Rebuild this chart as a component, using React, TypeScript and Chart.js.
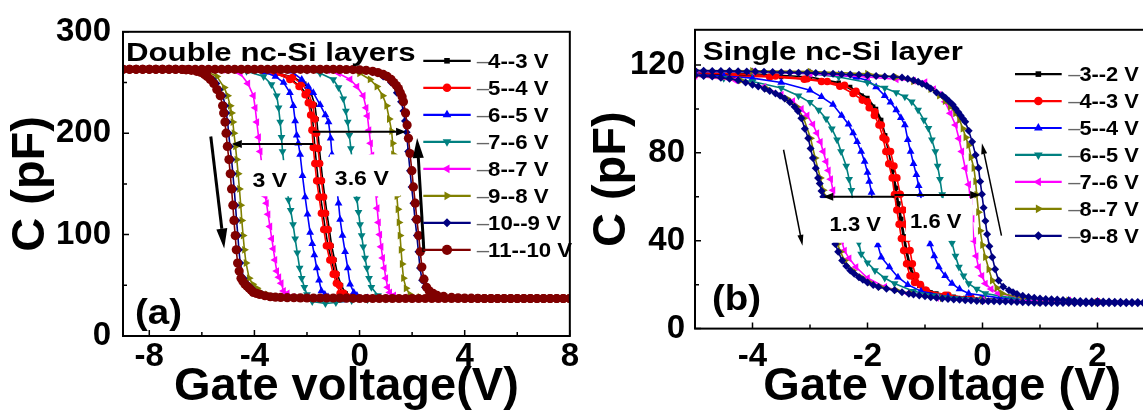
import React, { useEffect, useRef } from 'react';
import { Chart, registerables } from 'chart.js';

Chart.register(...registerables);

type Pt = [number, number];

const FONT = '"Liberation Sans", Arial, Helvetica, sans-serif';

// ================= Panel (a): Double nc-Si layers =================
const A_TITLE = 'Double nc-Si layers';
const A_TAG = '(a)';
const A_X_TITLE = 'Gate voltage(V)';
const A_Y_TITLE = 'C (pF)';
const A_X_MIN = -9;
const A_X_MAX = 8;
const A_Y_MIN = 0;
const A_Y_MAX = 300;
const A_X_TICKS = [-8, -4, 0, 4, 8];
const A_X_MINOR = [-6, -2, 2, 6];
const A_Y_TICKS = [0, 100, 200, 300];
const A_Y_MINOR = [50, 150, 250];
const A_LABELS = ['–4--3 V', '–5--4 V', '–6--5 V', '–7--6 V', '–8--7 V', '–9--8 V', '–10--9 V', '–11--10 V'];
const A_GAP_TEXT = ['3 V', '3.6 V'];

// right branch (left -> right) and left branch (right -> left), [V, pF]
const A_43_R: Pt[] = [[-9,263],[-7,263],[-5,263],[-4,262.5],[-3.2,260],[-2.5,255],[-2.1,249],[-1.85,240],[-1.7,228],[-1.63,214],[-1.58,200],[-1.53,185],[-1.47,170],[-1.4,153],[-1.32,137],[-1.24,121],[-1.15,105],[-1.06,89],[-0.95,75],[-0.84,61],[-0.7,50],[-0.52,42],[-0.2,38.5],[0.5,37.5],[2,37],[5,37],[8,37]];
const A_43_L: Pt[] = [[8,37],[5,37],[2,37],[0,37],[-0.4,38.5],[-0.66,42],[-0.82,52],[-0.94,61],[-1.07,75],[-1.2,89],[-1.3,105],[-1.39,121],[-1.48,137],[-1.57,153],[-1.64,170],[-1.7,186],[-1.75,203],[-1.8,218],[-1.89,230],[-2.0,238],[-2.25,246],[-2.6,253],[-3.2,259],[-4,262],[-5,263],[-7,263],[-9,263]];

const A_54_R: Pt[] = [[-9,263],[-7,263],[-5,263],[-4,262.5],[-3.2,260],[-2.55,255],[-2.2,249],[-1.95,240],[-1.78,228],[-1.7,214],[-1.64,200],[-1.58,185],[-1.52,170],[-1.45,153],[-1.37,137],[-1.3,121],[-1.2,105],[-1.12,89],[-1.01,75],[-0.9,61],[-0.77,50],[-0.6,42],[-0.3,38.5],[0.3,37.5],[2,37],[4,37],[6,37],[8,37]];
const A_54_L: Pt[] = [[8,37],[6,37],[4,37],[2,37],[0.5,37],[-0.2,37.5],[-0.5,39],[-0.74,42],[-0.88,52],[-1.0,61],[-1.13,75],[-1.26,89],[-1.36,105],[-1.45,121],[-1.54,137],[-1.63,153],[-1.7,170],[-1.76,186],[-1.81,203],[-1.86,218],[-1.95,230],[-2.07,238],[-2.3,246],[-2.65,253],[-3.2,259],[-4,262],[-5,263],[-6,263],[-7,263],[-9,263]];

const A_65_R: Pt[] = [[-9,263],[-7,263],[-5,263],[-3.5,262.5],[-2.6,261],[-2.2,253],[-1.95,246],[-1.76,240],[-1.5,228],[-1.3,218],[-1.18,211],[-1.1,195],[-1.05,179],[-0.96,163],[-0.87,147],[-0.8,131],[-0.74,115],[-0.65,99],[-0.55,83],[-0.45,67],[-0.36,51],[-0.22,43],[-0.1,40],[0.3,37.5],[1,37],[3,37],[5,37],[8,37]];
const A_65_L: Pt[] = [[8,37],[6,37],[4,37],[2,37],[1,37],[0,36.5],[-0.6,35.5],[-1.0,36.5],[-1.2,38.5],[-1.32,41],[-1.45,44.5],[-1.54,55],[-1.63,67],[-1.72,80],[-1.8,91],[-1.88,102],[-1.98,120],[-2.07,137],[-2.17,158],[-2.26,179],[-2.33,190],[-2.39,198],[-2.45,212],[-2.52,227],[-2.65,240],[-2.89,250],[-3.2,256],[-3.6,260],[-4.2,262],[-5,263],[-7,263],[-9,263]];

const A_76_R: Pt[] = [[-9,263],[-7,263],[-5,263],[-3,262.5],[-2,262],[-1.5,259],[-1.0,253],[-0.8,245],[-0.62,234],[-0.52,222],[-0.45,211],[-0.39,198],[-0.33,185],[-0.28,172],[-0.22,160],[-0.16,147],[-0.1,135],[-0.04,122],[0.02,110],[0.08,99],[0.14,88],[0.21,77],[0.28,67],[0.36,57],[0.45,48],[0.7,40],[1.2,37.5],[2,37],[4,37],[6,37],[8,37]];
const A_76_L: Pt[] = [[8,37],[6,37],[4,37],[2,37],[1,36.5],[0.3,36],[-0.3,35],[-0.9,33],[-1.3,32],[-1.8,34],[-2.0,41],[-2.1,48],[-2.2,57],[-2.28,67],[-2.37,82],[-2.45,96],[-2.53,110],[-2.62,124],[-2.7,134],[-2.78,150],[-2.86,166],[-2.93,182],[-2.97,196],[-3.02,211],[-3.08,225],[-3.15,237],[-3.35,248],[-3.65,256],[-4.3,261],[-5,262.5],[-6,263],[-7,263],[-9,263]];

const A_87_R: Pt[] = [[-9,263],[-7,263],[-5,263],[-3,263],[-2,262.5],[-1.2,262],[-0.8,259],[-0.36,253],[-0.1,246],[0.14,237],[0.25,225],[0.3,217],[0.36,203],[0.42,190],[0.47,178],[0.52,165],[0.57,152],[0.62,140],[0.67,126],[0.72,112],[0.77,100],[0.82,88],[0.88,77],[0.94,67],[1.0,57],[1.07,48],[1.15,43],[1.3,40],[1.7,38],[3,37],[5,37],[8,37]];
const A_87_L: Pt[] = [[8,37],[6,37],[4,37],[2,37],[0,37],[-1,37.5],[-2,38],[-2.54,38.5],[-2.75,42],[-2.89,44.5],[-2.98,52],[-3.07,58],[-3.15,64],[-3.22,75],[-3.28,86],[-3.34,96],[-3.41,108],[-3.48,120],[-3.54,131],[-3.59,138],[-3.65,152],[-3.71,167],[-3.78,182],[-3.84,196],[-3.91,211],[-3.97,225],[-4.04,237],[-4.25,249],[-4.54,259],[-5.2,262.5],[-6,263],[-7,263],[-9,263]];

const A_98_R: Pt[] = [[-9,263],[-7,263],[-5,263],[-3,263],[-1.5,263],[-0.5,262],[0,259],[0.4,253],[0.66,246],[0.88,237],[1.03,227],[1.13,214],[1.22,202],[1.26,190],[1.29,179],[1.33,165],[1.38,151],[1.42,138],[1.46,125],[1.5,112],[1.54,99],[1.58,85],[1.62,71],[1.67,57],[1.77,47],[1.92,41],[2.3,38.5],[3,37.5],[5,37],[8,37]];
const A_98_L: Pt[] = [[8,37],[6,37],[4,37],[2,37],[0,37],[-2,37.5],[-3.1,38.5],[-3.5,41],[-3.74,43],[-3.9,47],[-4.06,51],[-4.2,57],[-4.32,72],[-4.38,85],[-4.43,99],[-4.48,114],[-4.52,129],[-4.57,145],[-4.62,160],[-4.67,174],[-4.72,187],[-4.78,200],[-4.82,211],[-4.87,220],[-4.92,227],[-5.02,237],[-5.15,245],[-5.43,256],[-5.9,262],[-7,263],[-9,263]];

const A_109_R: Pt[] = [[-9,263],[-7,263],[-5,263],[-3,263],[-1,262.5],[0,262],[0.5,260],[0.9,256],[1.2,250],[1.42,240],[1.58,231],[1.67,222],[1.73,212],[1.79,201],[1.85,182],[1.92,163],[1.98,147],[2.05,131],[2.11,115],[2.18,99],[2.24,83],[2.3,67],[2.38,55],[2.49,48],[2.65,43],[2.93,40],[3.5,38],[5,37],[8,37]];
const A_109_L: Pt[] = [[8,37],[6,37],[4,37],[2,37],[0,37],[-2,37.5],[-3.3,38.7],[-3.7,41],[-3.94,43],[-4.1,47],[-4.26,51],[-4.41,57],[-4.54,72],[-4.59,85],[-4.63,99],[-4.68,114],[-4.72,129],[-4.77,145],[-4.82,160],[-4.87,174],[-4.93,187],[-4.98,200],[-5.02,211],[-5.07,220],[-5.11,227],[-5.2,237],[-5.33,243],[-5.45,249],[-5.58,253],[-5.8,258],[-6.1,261],[-6.5,262.5],[-7,263],[-9,263]];

const A_1110_R: Pt[] = [[-9,263],[-8.75,263],[-8.5,263],[-8.25,263],[-8,263],[-7.75,263],[-7.5,263],[-7.25,263],[-7,263],[-6.75,263],[-6.5,263],[-6.25,263],[-6,263],[-5.75,263],[-5.5,263],[-5.25,263],[-5,263],[-4.75,263],[-4.5,263],[-4.25,263],[-4,263],[-3.75,263],[-3.5,263],[-3.25,263],[-3,263],[-2.75,263],[-2.5,263],[-2.25,263],[-2,263],[-1.75,263],[-1.5,263],[-1.25,263],[-1,263],[-0.75,262.9],[-0.5,262.8],[-0.25,262.7],[0,262.5],[0.25,262],[0.5,261],[0.7,259.8],[0.9,258],[1.05,256],[1.2,253],[1.3,250],[1.4,247],[1.48,244],[1.55,240],[1.62,236],[1.67,231],[1.75,220],[1.81,208],[1.86,195],[1.92,180],[1.99,163],[2.05,147],[2.12,131],[2.18,115],[2.25,99],[2.31,83],[2.37,68],[2.45,56],[2.55,48],[2.65,44.5],[2.8,42],[2.95,40],[3.2,39],[3.5,38],[3.75,37.7],[4,37.5],[4.25,37.3],[4.5,37.2],[4.75,37],[5,37],[5.25,37],[5.5,37],[5.75,37],[6,37],[6.25,37],[6.5,37],[6.75,37],[7,37],[7.25,37],[7.5,37],[7.75,37],[8,37]];
const A_1110_L: Pt[] = [[8,37],[7.75,37],[7.5,37],[7.25,37],[7,37],[6.75,37],[6.5,37],[6.25,37],[6,37],[5.75,37],[5.5,37],[5.25,37],[5,37],[4.75,37],[4.5,37],[4.25,37],[4,37],[3.75,37],[3.5,37],[3.25,37],[3,37],[2.75,37],[2.5,37],[2.25,37],[2,37],[1.75,37],[1.5,37],[1.25,37],[1,37],[0.75,37],[0.5,37],[0.25,37],[0,37],[-0.25,37.2],[-0.5,37.3],[-0.75,37.4],[-1,37.5],[-1.25,37.5],[-1.5,37.5],[-1.75,37.5],[-2,37.5],[-2.25,37.6],[-2.5,37.7],[-2.75,37.8],[-3,38],[-3.2,38.3],[-3.4,38.7],[-3.6,39.7],[-3.8,41],[-3.92,42],[-4.04,43],[-4.12,45],[-4.2,47],[-4.28,49],[-4.36,51],[-4.44,54],[-4.51,57],[-4.58,64],[-4.64,72],[-4.69,85],[-4.73,99],[-4.78,114],[-4.82,129],[-4.87,145],[-4.92,160],[-4.97,174],[-5.03,187],[-5.08,200],[-5.12,211],[-5.17,220],[-5.21,227],[-5.3,237],[-5.43,243],[-5.55,249],[-5.68,253],[-5.8,256],[-5.9,258],[-6.05,260],[-6.2,261],[-6.4,262],[-6.6,262.5],[-6.75,262.8],[-7,263],[-7.25,263],[-7.5,263],[-7.75,263],[-8,263],[-8.25,263],[-8.5,263],[-8.75,263],[-9,263]];

// ================= Panel (b): Single nc-Si layer =================
const B_TITLE = 'Single nc-Si layer';
const B_TAG = '(b)';
const B_X_TITLE = 'Gate voltage (V)';
const B_Y_TITLE = 'C (pF)';
const B_X_MIN = -5;
const B_X_MAX = 3.6;
const B_Y_MIN = 0;
const B_Y_MAX = 136;
const B_X_TICKS = [-4, -2, 0, 2];
const B_X_MINOR = [-3, -1, 1, 3];
const B_Y_TICKS = [0, 40, 80, 120];
const B_Y_MINOR = [20, 60, 100];
const B_LABELS = ['–3--2 V', '–4--3 V', '–5--4 V', '–6--5 V', '–7--6 V', '–8--7 V', '–9--8 V'];
const B_GAP_TEXT = ['1.3 V', '1.6 V'];

const B_32_R: Pt[] = [[-5,116.5],[-4,116],[-3,114.5],[-2.5,112],[-2.1,106],[-1.9,101],[-1.78,95],[-1.7,88],[-1.63,80],[-1.56,72],[-1.5,64],[-1.46,57],[-1.41,50],[-1.36,42],[-1.31,35],[-1.25,28],[-1.17,23],[-1.05,19],[-0.8,16],[-0.3,14],[0.5,12.8],[1.5,12.2],[3,12],[3.6,12]];
const B_32_L: Pt[] = [[3.6,12],[3,12],[2,12.2],[1,12.5],[0,13.2],[-0.5,14.5],[-0.9,16.5],[-1.1,19.5],[-1.2,23],[-1.27,28],[-1.33,35],[-1.38,42],[-1.43,50],[-1.48,57],[-1.52,64],[-1.57,72],[-1.63,80],[-1.69,88],[-1.76,95],[-1.85,100],[-2.0,105],[-2.3,110],[-2.8,113],[-3.5,114.5],[-4.2,115.3],[-5,115.8]];

const B_43_R: Pt[] = [[-5,116.5],[-4.3,116],[-3.6,115],[-3.05,113.7],[-2.7,112.5],[-2.4,110.7],[-2.2,108],[-2.0,103.2],[-1.87,98.7],[-1.76,92.7],[-1.68,86],[-1.6,80.6],[-1.54,74],[-1.49,68.6],[-1.43,61.1],[-1.38,54],[-1.34,47.5],[-1.3,41],[-1.26,35.5],[-1.22,29.5],[-1.16,24],[-1.08,20],[-0.98,17.4],[-0.65,15.2],[-0.2,14],[0.5,13],[1.5,12.3],[3,12],[3.6,12]];
const B_43_L: Pt[] = [[3.6,12],[3,12],[2,12.2],[1,12.5],[0,13.5],[-0.6,15.2],[-1.0,17.4],[-1.18,21],[-1.26,24],[-1.32,29.5],[-1.37,35.5],[-1.41,41],[-1.45,47.5],[-1.49,54],[-1.53,61],[-1.57,68.6],[-1.63,75],[-1.68,80.6],[-1.73,87],[-1.8,92.7],[-1.88,97],[-1.97,100.5],[-2.09,104],[-2.25,107],[-2.48,110.3],[-2.8,112.5],[-3.1,113.5],[-3.7,114.5],[-4.3,115],[-5,115.5]];

const B_54_R: Pt[] = [[-5,117],[-4,116.8],[-3,116.5],[-2.5,115.5],[-2.2,114.3],[-2,113],[-1.85,110],[-1.7,106],[-1.6,103],[-1.5,99.5],[-1.42,96],[-1.35,92.7],[-1.3,86],[-1.25,80.6],[-1.2,75],[-1.15,70],[-1.11,65],[-1.08,61],[-1.03,54],[-0.98,47],[-0.94,42],[-0.91,38.5],[-0.84,33],[-0.76,28],[-0.65,24],[-0.53,20.5],[-0.4,18],[-0.24,16],[0.3,14],[1.5,12.8],[3,12],[3.6,12]];
const B_54_L: Pt[] = [[3.6,12],[3,12],[2,12.2],[1,12.5],[0,13.3],[-0.6,14.5],[-1.07,17],[-1.3,20],[-1.47,23.4],[-1.62,28],[-1.76,32.5],[-1.82,38],[-1.86,45],[-1.9,53],[-1.93,62],[-1.97,67],[-2.0,71],[-2.05,76],[-2.11,80.6],[-2.18,85],[-2.25,89],[-2.33,93],[-2.45,97],[-2.6,102],[-2.8,105.5],[-3.0,108.5],[-3.5,112],[-4,114],[-4.5,115],[-5,115.5]];

const B_65_R: Pt[] = [[-5,117],[-4,116.8],[-3,116],[-2.5,114.5],[-2,112],[-1.7,109.5],[-1.5,107.5],[-1.35,105.5],[-1.23,103.2],[-1.12,99.5],[-1.02,95],[-0.94,91.2],[-0.88,86],[-0.82,80.6],[-0.78,74],[-0.74,68],[-0.7,61],[-0.65,55],[-0.6,48],[-0.53,39],[-0.47,33],[-0.41,28],[-0.33,24],[-0.24,20.5],[-0.1,18],[0.05,16],[0.5,14],[1.5,12.8],[3,12],[3.6,12]];
const B_65_L: Pt[] = [[3.6,12],[3,12],[2,12.2],[1,12.5],[0,13.5],[-0.8,15],[-1.2,17],[-1.53,20.5],[-1.7,23],[-1.87,26.5],[-2.0,30],[-2.11,34],[-2.15,39],[-2.19,45],[-2.23,52],[-2.28,63],[-2.32,68],[-2.37,74],[-2.46,80.6],[-2.53,86],[-2.62,91],[-2.72,95.5],[-2.85,99.5],[-3.0,103],[-3.2,106],[-3.5,109.5],[-4,112.5],[-4.5,114],[-5,115]];

const B_76_R: Pt[] = [[-5,117],[-4,117],[-3,116],[-2,114.5],[-1.5,113.5],[-1.2,112.8],[-1.0,112.2],[-0.85,109],[-0.75,106.5],[-0.65,103.2],[-0.56,98],[-0.47,92.7],[-0.41,86.5],[-0.36,80.6],[-0.3,73],[-0.24,65.6],[-0.21,58],[-0.18,50],[-0.15,40],[-0.11,33],[-0.07,28],[-0.01,24],[0.05,20.5],[0.15,18],[0.28,16],[0.7,14],[1.5,12.8],[3,12],[3.6,12]];
const B_76_L: Pt[] = [[3.6,12],[3,12],[2,12.2],[1,12.5],[0,13],[-0.8,14],[-1.3,16],[-1.7,19],[-2.0,23],[-2.2,28],[-2.32,32],[-2.4,35.5],[-2.45,40],[-2.49,45],[-2.52,50],[-2.56,56],[-2.6,63],[-2.64,68],[-2.68,72],[-2.72,76],[-2.77,80.6],[-2.82,85],[-2.88,89],[-2.95,93],[-3.05,97],[-3.15,100],[-3.3,103.5],[-3.5,106.5],[-3.8,110],[-4.3,113],[-5,115]];

const B_87_R: Pt[] = [[-5,117.5],[-4,117.3],[-3,117],[-2,116],[-1.5,114.5],[-1.2,112.5],[-0.9,109],[-0.75,106],[-0.65,103.5],[-0.56,101],[-0.47,98],[-0.4,95],[-0.34,91],[-0.29,87],[-0.24,83.5],[-0.2,78],[-0.15,73.1],[-0.12,67],[-0.1,61],[-0.07,53],[-0.04,44.5],[0.0,38],[0.05,32.5],[0.11,27],[0.17,21.9],[0.25,18.5],[0.34,16],[0.7,14],[1.5,12.8],[3,12],[3.6,12]];
const B_87_L: Pt[] = [[3.6,11.8],[3,11.8],[2,11.8],[1,12],[0,12.7],[-0.7,13.9],[-1.25,16],[-1.5,17.5],[-1.78,19],[-1.96,21],[-2.11,23.4],[-2.26,26.5],[-2.4,31],[-2.47,35],[-2.52,38.5],[-2.59,44],[-2.64,50],[-2.69,56],[-2.73,60],[-2.77,63],[-2.82,68.6],[-2.91,77.6],[-2.99,86.6],[-3.11,95.7],[-3.23,101],[-3.4,104.7],[-3.75,109.2],[-4.2,113],[-5,115.3]];

const B_98_R: Pt[] = [[-5,117.5],[-4.85,117.4],[-4.7,117.3],[-4.55,117.3],[-4.4,117.2],[-4.25,117.1],[-4.1,117],[-3.95,117],[-3.8,116.9],[-3.65,116.8],[-3.5,116.7],[-3.35,116.6],[-3.2,116.5],[-3.05,116.4],[-2.9,116.3],[-2.75,116.1],[-2.6,116],[-2.45,115.8],[-2.3,115.6],[-2.15,115.5],[-2,115.3],[-1.85,115],[-1.7,114.8],[-1.55,114.6],[-1.4,114.3],[-1.3,113.7],[-1.2,113],[-1.12,112.3],[-1.05,111.5],[-0.97,110.5],[-0.9,109.3],[-0.8,107.5],[-0.7,106.2],[-0.64,105],[-0.58,103.5],[-0.52,102],[-0.47,100.2],[-0.42,98.5],[-0.38,97],[-0.34,95.5],[-0.3,94.2],[-0.24,90],[-0.18,85.1],[-0.12,79],[-0.07,73.1],[-0.04,67],[-0.01,61.1],[0.02,55],[0.05,49],[0.08,43],[0.12,37.5],[0.17,32.5],[0.22,27],[0.28,21.9],[0.36,19],[0.46,17.4],[0.53,16.5],[0.6,15.8],[0.7,15],[0.8,14.4],[0.9,14],[1.0,13.7],[1.1,13.5],[1.2,13.4],[1.3,13.2],[1.4,13],[1.5,12.8],[1.6,12.7],[1.7,12.6],[1.8,12.5],[1.9,12.4],[2.0,12.4],[2.1,12.3],[2.2,12.3],[2.3,12.2],[2.4,12.2],[2.5,12.1],[2.6,12.1],[2.7,12.1],[2.8,12],[2.9,12],[3.0,12],[3.1,12],[3.2,12],[3.3,12],[3.4,12],[3.5,12],[3.6,12]];
const B_98_L: Pt[] = [[3.6,11.5],[3.5,11.5],[3.4,11.5],[3.3,11.5],[3.2,11.5],[3.1,11.5],[3.0,11.5],[2.9,11.5],[2.8,11.5],[2.7,11.5],[2.6,11.5],[2.5,11.5],[2.4,11.5],[2.3,11.5],[2.2,11.5],[2.1,11.5],[2.0,11.5],[1.9,11.5],[1.8,11.5],[1.7,11.5],[1.6,11.5],[1.5,11.6],[1.4,11.6],[1.3,11.6],[1.2,11.7],[1.1,11.7],[1.0,11.7],[0.9,11.8],[0.8,11.9],[0.7,12],[0.6,12.1],[0.5,12.2],[0.4,12.3],[0.3,12.3],[0.2,12.4],[0.1,12.4],[0,12.5],[-0.1,12.6],[-0.2,12.8],[-0.3,12.9],[-0.4,13.1],[-0.5,13.3],[-0.6,13.5],[-0.7,13.7],[-0.8,14],[-0.9,14.3],[-1.0,14.7],[-1.1,15.1],[-1.2,15.5],[-1.28,15.9],[-1.4,16.6],[-1.53,17.4],[-1.67,18.1],[-1.81,18.9],[-1.9,19.9],[-2.0,21],[-2.08,22.2],[-2.15,23.4],[-2.23,25],[-2.3,26.5],[-2.37,28.5],[-2.44,31],[-2.51,35],[-2.56,38.5],[-2.63,44],[-2.68,50],[-2.73,56],[-2.77,60],[-2.8,62.6],[-2.83,66],[-2.86,68.6],[-2.9,73],[-2.95,77.6],[-2.99,82],[-3.03,86.6],[-3.09,91],[-3.15,95.7],[-3.21,99],[-3.27,101],[-3.35,103],[-3.44,104.7],[-3.52,106],[-3.6,107],[-3.7,108.2],[-3.79,109.2],[-3.9,110.2],[-4.0,111],[-4.12,112],[-4.25,113],[-4.4,113.7],[-4.55,114.2],[-4.7,114.7],[-4.85,115],[-5,115.3]];

// ================= Styles =================
const COLORS = ['#000000', '#FF0000', '#0000FF', '#008080', '#FF00FF', '#808000', '#000080', '#800000'];
const SHAPES = ['rect', 'circle', 'triangle', 'triangle', 'triangle', 'triangle', 'rectRot', 'circle'];
const ROTATIONS = [0, 0, 0, 180, 270, 90, 0, 0];
const RADII = [3, 3.8, 4.5, 4.5, 4.5, 4.5, 4, 4.6];

type Box = { x1: number; x2: number; y1: number; y2: number };
type Txt = { text: string; x: number; y: number };
type Arr = { x1: number; y1: number; x2: number; y2: number; lw: number; hl: number; hw: number };

interface PanelSpec {
  labels: string[];
  branches: [Pt[], Pt[]][];
  xMin: number; xMax: number; yMin: number; yMax: number;
  xTicks: number[]; xMinor: number[]; yTicks: number[]; yMinor: number[];
  xTitle: string; yTitle: string; title: string; tag: string;
  width: number;
  padding: { left: number; right: number; top: number };
  yWidth: number; xHeight: number;
  yTickPad: number; xTickPad: number;
  boxes: Box[]; texts: Txt[]; arrows: Arr[];
  titlePos: [number, number]; tagPos: [number, number];
  legend: { x1: number; x2: number; tx: number; y0: number; dy: number; sx: number };
  gapFont: number;
}

function drawStretched(ctx: CanvasRenderingContext2D, text: string, x: number, y: number, font: string, sx: number) {
  ctx.save();
  ctx.translate(x, y);
  ctx.scale(sx, 1);
  ctx.font = font;
  ctx.textAlign = 'left';
  ctx.textBaseline = 'alphabetic';
  ctx.fillText(text, 0, 0);
  ctx.restore();
}

function drawArrow(ctx: CanvasRenderingContext2D, x1: number, y1: number, x2: number, y2: number, lw: number, hl: number, hw: number) {
  const ang = Math.atan2(y2 - y1, x2 - x1);
  const bx = x2 - hl * Math.cos(ang);
  const by = y2 - hl * Math.sin(ang);
  ctx.lineWidth = lw;
  ctx.beginPath();
  ctx.moveTo(x1, y1);
  ctx.lineTo(bx, by);
  ctx.stroke();
  ctx.beginPath();
  ctx.moveTo(x2, y2);
  ctx.lineTo(bx + (hw / 2) * Math.sin(ang), by - (hw / 2) * Math.cos(ang));
  ctx.lineTo(bx - (hw / 2) * Math.sin(ang), by + (hw / 2) * Math.cos(ang));
  ctx.closePath();
  ctx.fill();
}

function drawMarker(ctx: CanvasRenderingContext2D, shape: string, rotDeg: number, x: number, y: number, r: number) {
  ctx.beginPath();
  if (shape === 'circle') {
    ctx.arc(x, y, r, 0, Math.PI * 2);
  } else if (shape === 'rect') {
    const s = r * 0.8;
    ctx.rect(x - s, y - s, s * 2, s * 2);
  } else if (shape === 'rectRot') {
    ctx.moveTo(x, y - r); ctx.lineTo(x + r, y); ctx.lineTo(x, y + r); ctx.lineTo(x - r, y); ctx.closePath();
  } else {
    const rad = (rotDeg * Math.PI) / 180;
    for (let k = 0; k < 3; k++) {
      const a = rad + (k * 2 * Math.PI) / 3;
      const px = x + Math.sin(a) * r;
      const py = y - Math.cos(a) * r;
      if (k === 0) ctx.moveTo(px, py); else ctx.lineTo(px, py);
    }
    ctx.closePath();
  }
  ctx.fill();
}

function overlay(p: PanelSpec) {
  return {
    id: 'overlay',
    afterDatasetsDraw(chart: any) {
      const { ctx, chartArea: ca } = chart;
      const xs = chart.scales.x;
      const ys = chart.scales.y;
      const X = (v: number) => xs.getPixelForValue(v);
      const Y = (v: number) => ys.getPixelForValue(v);
      ctx.save();
      // white label boxes
      ctx.fillStyle = '#ffffff';
      for (const b of p.boxes) {
        const x1 = X(b.x1), x2 = X(b.x2), y1 = Y(b.y1), y2 = Y(b.y2);
        ctx.fillRect(x1, y1, x2 - x1, y2 - y1);
      }
      // gap labels
      ctx.fillStyle = '#000';
      for (const t of p.texts) drawStretched(ctx, t.text, X(t.x), Y(t.y), `bold ${p.gapFont}px ${FONT}`, 1.1);
      // arrows
      ctx.strokeStyle = '#000';
      ctx.fillStyle = '#000';
      for (const a of p.arrows) drawArrow(ctx, X(a.x1), Y(a.y1), X(a.x2), Y(a.y2), a.lw, a.hl, a.hw);
      // frame
      ctx.lineWidth = 2;
      ctx.strokeRect(ca.left, ca.top, ca.right - ca.left, ca.bottom - ca.top);
      // inward ticks
      ctx.lineWidth = 1.5;
      ctx.beginPath();
      for (const v of p.xTicks) { const px = X(v); ctx.moveTo(px, ca.bottom); ctx.lineTo(px, ca.bottom - 6); }
      for (const v of p.xMinor) { const px = X(v); ctx.moveTo(px, ca.bottom); ctx.lineTo(px, ca.bottom - 4); }
      for (const v of p.yTicks) { const py = Y(v); ctx.moveTo(ca.left, py); ctx.lineTo(ca.left + 6, py); }
      for (const v of p.yMinor) { const py = Y(v); ctx.moveTo(ca.left, py); ctx.lineTo(ca.left + 4, py); }
      ctx.stroke();
      // panel title & tag
      drawStretched(ctx, p.title, ca.left + p.titlePos[0], ca.top + p.titlePos[1], `bold 26px ${FONT}`, 1.2);
      drawStretched(ctx, p.tag, ca.left + p.tagPos[0], ca.top + p.tagPos[1], `bold 35px ${FONT}`, 1.1);
      // legend
      const lg = p.legend;
      p.labels.forEach((lab, i) => {
        const y = ca.top + lg.y0 + lg.dy * i;
        const x1 = ca.left + lg.x1, x2 = ca.left + lg.x2;
        ctx.strokeStyle = COLORS[i];
        ctx.fillStyle = COLORS[i];
        ctx.lineWidth = 2.2;
        ctx.beginPath(); ctx.moveTo(x1, y); ctx.lineTo(x2, y); ctx.stroke();
        drawMarker(ctx, SHAPES[i], ROTATIONS[i], (x1 + x2) / 2, y, RADII[i] + 0.5);
        const tx = ca.left + lg.tx;
        ctx.save();
        ctx.translate(tx, y + 1);
        ctx.scale(lg.sx, 1);
        ctx.textBaseline = 'middle';
        ctx.textAlign = 'left';
        ctx.font = `21px ${FONT}`;
        ctx.fillStyle = '#666';
        const first = lab.charAt(0);
        ctx.fillText(first, 0, 0);
        const w = ctx.measureText(first).width;
        ctx.font = `bold 21px ${FONT}`;
        ctx.fillStyle = '#000';
        ctx.fillText(lab.slice(1), w - 1, 0);
        ctx.restore();
      });
      ctx.restore();
    },
  };
}

function buildConfig(p: PanelSpec): any {
  const n = p.branches.length;
  const tickFont = { family: FONT, size: 33, weight: 'bold' as const, lineHeight: 1.2 };
  const titleFont = { family: FONT, size: 47, weight: 'bold' as const, lineHeight: 1 };
  return {
    type: 'line',
    data: {
      datasets: p.branches.map(([r, l], i) => ({
        label: p.labels[i],
        data: [...r, ...l].map(([x, y]) => ({ x, y })),
        borderColor: COLORS[i],
        backgroundColor: COLORS[i],
        borderWidth: 1.6,
        pointStyle: SHAPES[i],
        pointRotation: ROTATIONS[i],
        pointRadius: RADII[i],
        pointBorderWidth: 0,
        tension: 0,
        order: n - i,
      })),
    },
    options: {
      responsive: false,
      animation: false,
      layout: { padding: { left: p.padding.left, right: p.padding.right, top: p.padding.top, bottom: 0 } },
      plugins: { legend: { display: false }, tooltip: { enabled: false } },
      scales: {
        x: {
          type: 'linear',
          min: p.xMin,
          max: p.xMax,
          afterBuildTicks: (s: any) => { s.ticks = p.xTicks.map((v) => ({ value: v })); },
          afterFit: (s: any) => { s.height = p.xHeight; },
          grid: { display: false, drawTicks: false },
          border: { display: false },
          ticks: { color: '#000', font: tickFont, padding: p.xTickPad, maxRotation: 0, autoSkip: false },
          title: { display: true, text: p.xTitle, color: '#000', font: titleFont, padding: 0 },
        },
        y: {
          type: 'linear',
          min: p.yMin,
          max: p.yMax,
          afterBuildTicks: (s: any) => { s.ticks = p.yTicks.map((v) => ({ value: v })); },
          afterFit: (s: any) => { s.width = p.yWidth; },
          grid: { display: false, drawTicks: false },
          border: { display: false },
          ticks: { color: '#000', font: tickFont, padding: p.yTickPad, autoSkip: false },
          title: { display: true, text: p.yTitle, color: '#000', font: titleFont, padding: 0 },
        },
      },
    },
    plugins: [overlay(p)],
  };
}

const PANEL_A: PanelSpec = {
  labels: A_LABELS,
  branches: [[A_43_R, A_43_L], [A_54_R, A_54_L], [A_65_R, A_65_L], [A_76_R, A_76_L], [A_87_R, A_87_L], [A_98_R, A_98_L], [A_109_R, A_109_L], [A_1110_R, A_1110_L]],
  xMin: A_X_MIN, xMax: A_X_MAX, yMin: A_Y_MIN, yMax: A_Y_MAX,
  xTicks: A_X_TICKS, xMinor: A_X_MINOR, yTicks: A_Y_TICKS, yMinor: A_Y_MINOR,
  xTitle: A_X_TITLE, yTitle: A_Y_TITLE, title: A_TITLE, tag: A_TAG,
  width: 580,
  padding: { left: 8, right: 10, top: 24 },
  yWidth: 115, xHeight: 75,
  yTickPad: 12, xTickPad: 1,
  boxes: [{ x1: -4.36, x2: -2.53, y1: 173.4, y2: 137.8 }, { x1: -1.13, x2: 1.54, y1: 179.1, y2: 137.8 }],
  texts: [{ text: A_GAP_TEXT[0], x: -4.07, y: 147.1 }, { text: A_GAP_TEXT[1], x: -0.94, y: 148.7 }],
  arrows: [
    { x1: -1.76, y1: 189.4, x2: -4.86, y2: 189.4, lw: 2, hl: 10, hw: 8 },
    { x1: -1.78, y1: 201.5, x2: 1.77, y2: 201.5, lw: 2, hl: 10, hw: 8 },
    { x1: -5.66, y1: 196.7, x2: -5.15, y2: 86.2, lw: 3, hl: 20, hw: 11 },
    { x1: 2.45, y1: 83, x2: 2.19, y2: 195.2, lw: 3, hl: 20, hw: 11 },
  ],
  titlePos: [3, 28.7], tagPos: [12, 291.7],
  legend: { x1: 300.3, x2: 347.7, tx: 353.7, y0: 29, dy: 27, sx: 1.06 },
  gapFont: 21,
};

const PANEL_B: PanelSpec = {
  labels: B_LABELS,
  branches: [[B_32_R, B_32_L], [B_43_R, B_43_L], [B_54_R, B_54_L], [B_65_R, B_65_L], [B_76_R, B_76_L], [B_87_R, B_87_L], [B_98_R, B_98_L]],
  xMin: B_X_MIN, xMax: B_X_MAX, yMin: B_Y_MIN, yMax: B_Y_MAX,
  xTicks: B_X_TICKS, xMinor: B_X_MINOR, yTicks: B_Y_TICKS, yMinor: B_Y_MINOR,
  xTitle: B_X_TITLE, yTitle: B_Y_TITLE, title: B_TITLE, tag: B_TAG,
  width: 620,
  padding: { left: 9, right: 10.5, top: 28 },
  yWidth: 106, xHeight: 82.4,
  yTickPad: 10, xTickPad: 9,
  boxes: [{ x1: -2.83, x2: -1.61, y1: 59.4, y2: 39.1 }, { x1: -1.33, x2: -0.17, y1: 59.4, y2: 40 }],
  texts: [{ text: B_GAP_TEXT[0], x: -2.66, y: 44.5 }, { text: B_GAP_TEXT[1], x: -1.26, y: 45.9 }],
  arrows: [
    { x1: -1.53, y1: 60, x2: -2.77, y2: 60, lw: 2, hl: 10, hw: 8 },
    { x1: -1.53, y1: 60.8, x2: -0.04, y2: 60.8, lw: 2, hl: 10, hw: 8 },
    { x1: -3.46, y1: 81.4, x2: -3.13, y2: 37.7, lw: 1.5, hl: 11, hw: 6 },
    { x1: 0.33, y1: 42.3, x2: -0.01, y2: 84.4, lw: 1.5, hl: 11, hw: 6 },
  ],
  titlePos: [7.7, 30.3], tagPos: [17, 280],
  legend: { x1: 320, x2: 366.7, tx: 373.3, y0: 44.3, dy: 26.95, sx: 1.04 },
  gapFont: 20,
};

export default function App() {
  const refA = useRef<HTMLCanvasElement>(null);
  const refB = useRef<HTMLCanvasElement>(null);
  useEffect(() => {
    const a = new Chart(refA.current as HTMLCanvasElement, buildConfig(PANEL_A));
    const b = new Chart(refB.current as HTMLCanvasElement, buildConfig(PANEL_B));
    return () => { a.destroy(); b.destroy(); };
  }, []);
  return (
    <div style={{ position: 'fixed', left: 0, top: 0, width: 1143, height: 411, overflow: 'hidden', background: '#fff' }}>
      <canvas ref={refA} width={PANEL_A.width} height={411} style={{ position: 'absolute', left: 0, top: 0 }} />
      <canvas ref={refB} width={PANEL_B.width} height={411} style={{ position: 'absolute', left: 580, top: 0 }} />
    </div>
  );
}
